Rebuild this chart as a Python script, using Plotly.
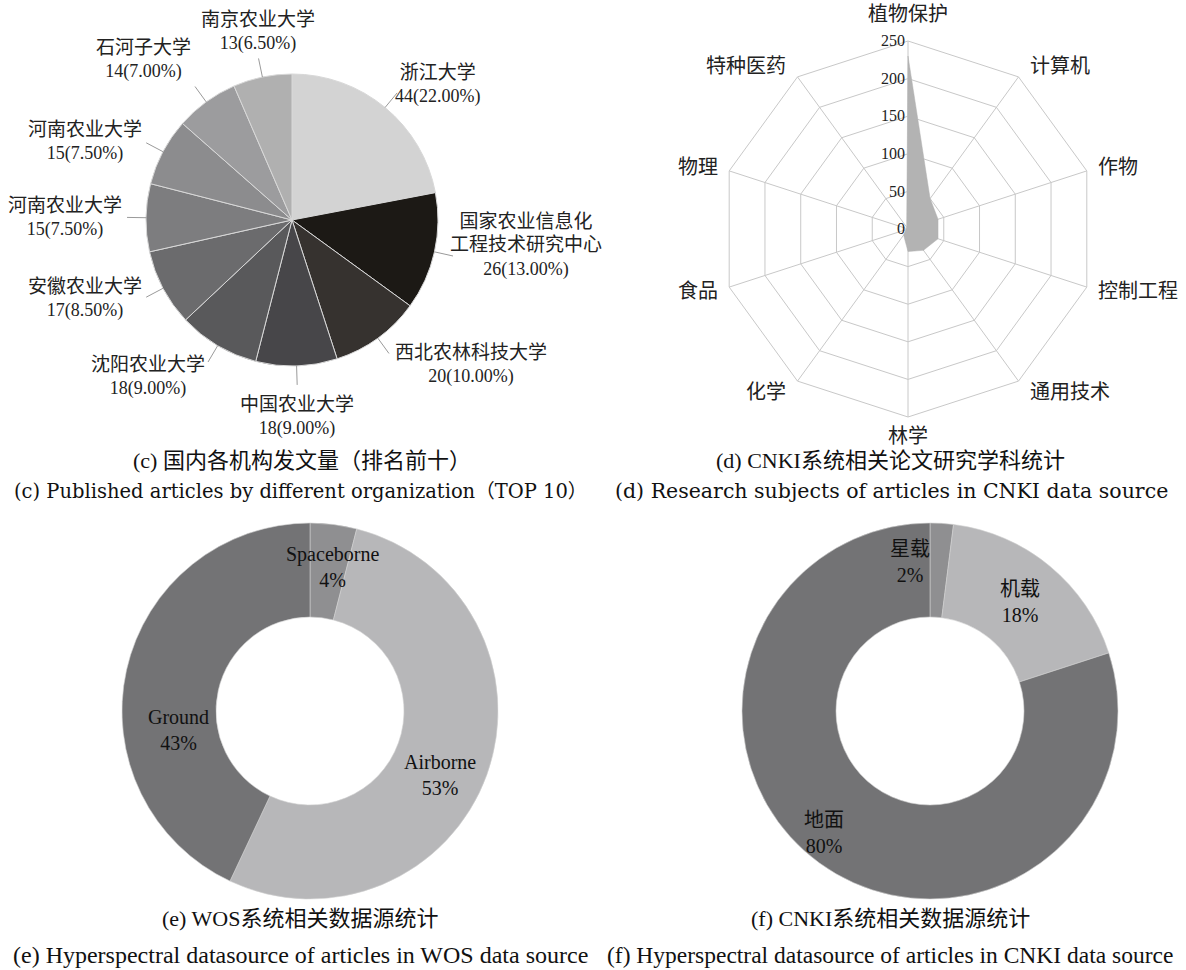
import math
import plotly.graph_objects as go

W, H = 1186, 970

# ---------------- data ----------------
# (c) published articles by organization (top 10)
org_names = ["浙江大学", "国家农业信息化<br>工程技术研究中心", "西北农林科技大学", "中国农业大学",
             "沈阳农业大学", "安徽农业大学", "河南农业大学", "河南农业大学", "石河子大学", "南京农业大学"]
org_counts = [44, 26, 20, 18, 18, 17, 15, 15, 14, 13]

# (d) research subjects in CNKI
subjects = ["植物保护", "计算机", "作物", "控制工程", "通用技术", "林学", "化学", "食品", "物理", "特种医药"]
subject_counts = [230, 50, 42, 42, 35, 30, 10, 3, 2, 3]
radial_ticks = [0, 50, 100, 150, 200, 250]

# (e) WOS data sources
wos_sources = ["Spaceborne", "Airborne", "Ground"]
wos_share = [4, 53, 43]
# (f) CNKI data sources
cnki_sources = ["星载", "机载", "地面"]
cnki_share = [2, 18, 80]

captions = [
    ("(c) 国内各机构发文量（排名前十）", "(c) Published articles by different organization（TOP 10）"),
    ("(d) CNKI系统相关论文研究学科统计", "(d) Research subjects of articles in CNKI data source"),
    ("(e) WOS系统相关数据源统计", "(e) Hyperspectral datasource of articles in WOS data source"),
    ("(f) CNKI系统相关数据源统计", "(f) Hyperspectral datasource of articles in CNKI data source"),
]

# ---------------- styles ----------------
org_colors = ["#d3d3d3", "#1c1915", "#36322f", "#474649", "#59595b", "#6b6b6d",
              "#7d7d7f", "#8c8c8e", "#9c9c9e", "#b0b0b0"]
src_colors = ["#8f8f91", "#b7b7b9", "#737375"]
# small label nudges (px) to mimic the original label placement
org_label_nudge = [(-6, -6), (-8, -11), (2, -16), (0, 4), (0, -13), (0, 0), (0, 0), (0, 0), (0, 0), (0, 0)]
wos_label_nudge = [(5, -4), (-3, 16), (6, 50)]
cnki_label_nudge = [(-29, -8), (0, 0), (-23, 8)]

SERIF = "Liberation Serif, Noto Sans CJK SC, serif"
WIDE_SERIF = "DejaVu Serif, Noto Sans CJK SC, serif"


def px(x):
    return x / W


def py(y):
    return 1 - y / H


def dom(cx, cy, r):
    return dict(x=[px(cx - r), px(cx + r)], y=[py(cy + r), py(cy - r)])


def big(s, size):
    return "<br>".join(f'<span style="font-size:{size}px">{p}</span>' for p in s.split("<br>"))


fig = go.Figure()
annotations = []
shapes = []

# ---------------- (c) pie ----------------
C_CX, C_CY, C_R = 292, 220, 146
total = sum(org_counts)
fig.add_trace(go.Pie(
    labels=[str(i) for i in range(len(org_counts))], values=org_counts,
    sort=False, direction="clockwise", rotation=0,
    marker=dict(colors=org_colors, line=dict(color="#d8d8d8", width=1)),
    textinfo="none", hoverinfo="skip", showlegend=False,
    domain=dom(C_CX, C_CY, C_R),
))
cum = 0
for name, v, (nx, ny) in zip(org_names, org_counts, org_label_nudge):
    mid = (cum + v / 2) / total * 2 * math.pi
    cum += v
    s, c = math.sin(mid), math.cos(mid)
    x0, y0 = C_CX + C_R * s, C_CY - C_R * c
    x1, y1 = C_CX + C_R * 1.13 * s, C_CY - C_R * 1.13 * c
    shapes.append(dict(type="line", xref="paper", yref="paper",
                       x0=px(x0), y0=py(y0), x1=px(x1), y1=py(y1),
                       line=dict(color="#9a9a9a", width=1)))
    xa = "left" if s > 0.35 else ("right" if s < -0.35 else "center")
    ya = "bottom" if c > 0.8 else ("top" if c < -0.8 else "middle")
    lx, ly = C_CX + C_R * 1.15 * s + nx, C_CY - C_R * 1.15 * c + ny
    annotations.append(dict(
        x=px(lx), y=py(ly), xref="paper", yref="paper", showarrow=False,
        xanchor=xa, yanchor=ya, align="center",
        text=f"{big(name, 19)}<br>{v}({v / total * 100:.2f}%)",
        font=dict(family=SERIF, size=18, color="#222")))

# ---------------- (d) radar ----------------
D_CX, D_CY, D_R = 908, 229, 188
fig.add_trace(go.Scatterpolar(
    r=subject_counts + [subject_counts[0]], theta=subjects + [subjects[0]],
    mode="lines", fill="toself", fillcolor="#b3b3b3",
    line=dict(color="#b3b3b3", width=0.5), hoverinfo="skip", showlegend=False,
))
fig.update_layout(polar=dict(
    domain=dom(D_CX, D_CY, D_R), bgcolor="white", gridshape="linear",
    angularaxis=dict(rotation=90, direction="clockwise", categoryorder="array",
                     categoryarray=subjects, gridcolor="#c8c8c8", linecolor="#c8c8c8",
                     showline=True, ticks="", showticklabels=False),
    radialaxis=dict(range=[0, 250], tickvals=radial_ticks, angle=90, tickangle=90,
                    showline=False, gridcolor="#c8c8c8", ticks="", side="counterclockwise",
                    tickfont=dict(family=SERIF, size=16, color="#222")),
))
for i, name in enumerate(subjects):
    a = i / len(subjects) * 2 * math.pi
    s, c = math.sin(a), math.cos(a)
    vx, vy = D_CX + D_R * s, D_CY - D_R * c
    if abs(s) < 0.1:
        xa = "center"
        if c > 0:
            ya, lx, ly = "bottom", vx, vy - 14
        else:
            ya, lx, ly = "top", vx, vy + 6
    else:
        xa, ya = ("left" if s > 0 else "right"), "middle"
        lx, ly = vx + (9 if s > 0 else -9), vy - 14 * c
    annotations.append(dict(
        x=px(lx), y=py(ly), xref="paper", yref="paper", showarrow=False,
        xanchor=xa, yanchor=ya, text=name,
        font=dict(family=SERIF, size=20, color="#222")))


# ---------------- (e)/(f) donuts ----------------
def donut(names, shares, nudges, cx, cy, r):
    fig.add_trace(go.Pie(
        labels=names, values=shares, sort=False, direction="clockwise", rotation=0,
        hole=0.5, marker=dict(colors=src_colors, line=dict(color="#d0d0d0", width=0.6)),
        textinfo="none", hoverinfo="skip", showlegend=False, domain=dom(cx, cy, r),
    ))
    tot = sum(shares)
    acc = 0
    for n, v, (nx, ny) in zip(names, shares, nudges):
        mid = (acc + v / 2) / tot * 2 * math.pi
        acc += v
        lx = cx + 0.75 * r * math.sin(mid) + nx
        ly = cy - 0.75 * r * math.cos(mid) + ny
        annotations.append(dict(
            x=px(lx), y=py(ly), xref="paper", yref="paper", showarrow=False,
            xanchor="center", yanchor="middle", align="center",
            text=f"{n}<br>{v}%", font=dict(family=SERIF, size=20, color="#111")))


donut(wos_sources, wos_share, wos_label_nudge, 310, 711, 188)
donut(cnki_sources, cnki_share, cnki_label_nudge, 930, 711, 188)

# ---------------- captions ----------------
# (zh x, zh y, en x, en anchor, en y)
cap_pos = [(302, 460, 300, "center", 491), (890, 460, 891, "center", 491),
           (300, 918, 300, "center", 955), (890, 918, 890, "center", 955)]
cap_en_font = [(WIDE_SERIF, 19.5), (WIDE_SERIF, 20.5), (SERIF, 24), (SERIF, 23.5)]
for (zh, en), (zx, zy, ex, ea, ey), (ef, es) in zip(captions, cap_pos, cap_en_font):
    annotations.append(dict(x=px(zx), y=py(zy), xref="paper", yref="paper", showarrow=False,
                            xanchor="center", yanchor="middle", text=zh,
                            font=dict(family=SERIF, size=22, color="#111")))
    annotations.append(dict(x=px(ex), y=py(ey), xref="paper", yref="paper", showarrow=False,
                            xanchor=ea, yanchor="middle", text=en,
                            font=dict(family=ef, size=es, color="#111")))

fig.update_layout(width=W, height=H, margin=dict(l=0, r=0, t=0, b=0),
                  paper_bgcolor="white", plot_bgcolor="white",
                  annotations=annotations, shapes=shapes, showlegend=False)
fig.write_html("out.html")
